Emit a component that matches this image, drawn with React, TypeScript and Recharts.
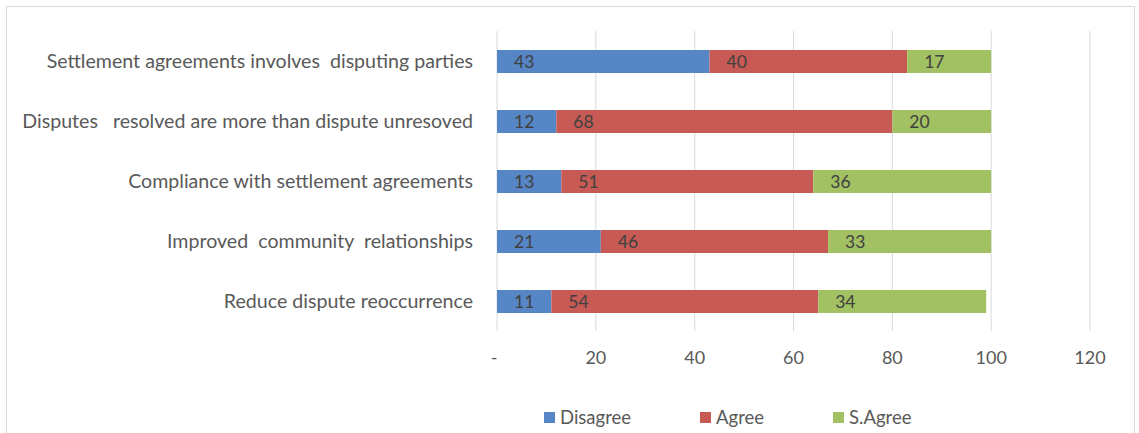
import React from 'react';
import { BarChart, Bar, XAxis, YAxis, CartesianGrid, Legend, LabelList } from 'recharts';

const categories = [
  'Settlement agreements involves  disputing parties',
  'Disputes   resolved are more than dispute unresoved',
  'Compliance with settlement agreements',
  'Improved  community  relationships',
  'Reduce dispute reoccurrence',
];
const disagree = [43, 12, 13, 21, 11];
const agree = [40, 68, 51, 46, 54];
const sAgree = [17, 20, 36, 33, 34];
const xTicks = [0, 20, 40, 60, 80, 100, 120];
const seriesNames = ['Disagree', 'Agree', 'S.Agree'];
const seriesKeys = ['disagree', 'agree', 'sAgree'];
const seriesColors = ['#5686c5', '#c75a55', '#a2c163'];

const data = categories.map((c, i) => ({
  category: c,
  disagree: disagree[i],
  agree: agree[i],
  sAgree: sAgree[i],
}));

const FONT = 'Lato, "Open Sans", sans-serif';

const YTick = (props: any) => {
  const { x, y, payload } = props;
  return (
    <text
      x={x}
      y={y}
      dy={6.5}
      textAnchor="end"
      fill="#595959"
      fontSize={19.6}
      fontFamily={FONT}
      style={{ whiteSpace: 'pre' }}
    >
      {payload.value}
    </text>
  );
};

const XTick = (props: any) => {
  const { x, y, payload } = props;
  return (
    <text x={payload.value === 0 ? x - 3 : x} y={y} dy={6.5} textAnchor="middle" fill="#595959" fontSize={18} fontFamily={FONT}>
      {payload.value === 0 ? '-' : payload.value}
    </text>
  );
};

const renderLabel = (props: any) => {
  const { x, y, height, value } = props;
  return (
    <text x={x + 17} y={y + height / 2} dy={6} fill="#404040" fontSize={17.5} fontFamily={FONT}>
      {value}
    </text>
  );
};

const itemWidths = [156, 133, 110];

const LegendContent = () => (
  <div style={{ display: 'flex', paddingLeft: 544, height: 24, alignItems: 'center', fontFamily: FONT, fontSize: 18.5, color: '#595959' }}>
    {seriesNames.map((n, i) => (
      <div key={n} style={{ width: itemWidths[i], display: 'flex', alignItems: 'center' }}>
        <span style={{ display: 'inline-block', width: 11, height: 11, background: seriesColors[i], marginRight: 5 }} />
        <span>{n}</span>
      </div>
    ))}
  </div>
);

export default function App() {
  return (
    <div style={{ position: 'absolute', left: 0, top: 0, width: 1139, height: 433, overflow: 'hidden', background: '#fff' }}>
      <div
        style={{
          position: 'absolute',
          left: 6,
          top: 6,
          width: 1129,
          height: 440,
          border: '1px solid #d9d9d9',
          boxSizing: 'border-box',
        }}
      />
      <BarChart
        width={1139}
        height={433}
        data={data}
        layout="vertical"
        margin={{ top: 31, right: 49, left: 0, bottom: 48 }}
        barSize={23}
      >
        <CartesianGrid horizontal={false} stroke="#d9d9d9" />
        <XAxis
          type="number"
          domain={[0, 120]}
          ticks={xTicks}
          axisLine={false}
          tickLine={false}
          tick={<XTick />}
          tickMargin={20}
          height={30}
          interval={0}
        />
        <YAxis
          type="category"
          dataKey="category"
          width={497}
          axisLine={false}
          tickLine={false}
          tick={<YTick />}
          tickMargin={18}
          interval={0}
        />
        <Legend
          verticalAlign="bottom"
          content={<LegendContent />}
          wrapperStyle={{ top: 405, left: 0, width: 1139, height: 24 }}
        />
        {seriesKeys.map((k, i) => (
          <Bar key={k} dataKey={k} name={seriesNames[i]} stackId="a" fill={seriesColors[i]} isAnimationActive={false}>
            <LabelList dataKey={k} content={renderLabel} />
          </Bar>
        ))}
      </BarChart>
    </div>
  );
}
